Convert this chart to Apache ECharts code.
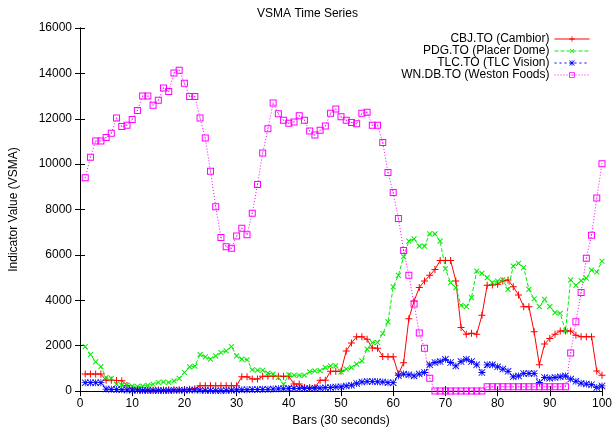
<!DOCTYPE html>
<html>
<head>
<meta charset="utf-8">
<script src="https://cdn.jsdelivr.net/npm/echarts@6/dist/echarts.min.js"></script>
<style>
  html, body { margin: 0; padding: 0; background: #fff; }
  #chart { width: 615px; height: 432px; }
</style>
</head>
<body>
<div id="chart"></div>
<script>
// values, bars 1..100
var cambior = [
  750, 750, 750, 750, 480, 480, 470, 460, 250, 120,
  80, 60, 50, 50, 50, 50, 60, 60, 60, 60,
  80, 100, 240, 240, 240, 240, 240, 240, 240, 240,
  630, 630, 530, 530, 650, 650, 650, 650, 650, 650,
  310, 310, 160, 160, 160, 480, 480, 870, 870, 870,
  1770, 2120, 2390, 2390, 2280, 1900, 1890, 1530, 1510, 1510,
  750, 1250, 3190, 3970, 4560, 4850, 5100, 5360, 5760, 5760,
  5760, 4850, 2800, 2510, 2550, 2510, 3340, 4660, 4680, 4710,
  4850, 4900, 4600, 4240, 3720, 3720, 2610, 1160, 2070, 2320,
  2510, 2650, 2650, 2650, 2460, 2400, 2400, 2400, 890, 700
];
var placerDome = [
  1960, 1610, 1290, 1080, 600, 560, 310, 260, 260, 220,
  200, 220, 250, 300, 380, 400, 380, 450, 560, 820,
  1070, 1100, 1610, 1510, 1410, 1550, 1700, 1770, 1960, 1550,
  1410, 1380, 940, 920, 920, 790, 750, 600, 300, 720,
  700, 700, 700, 850, 890, 900, 1040, 1110, 1110, 850,
  970, 1040, 1190, 1330, 1850, 2140, 2140, 2540, 3050, 4590,
  5100, 5920, 6610, 6710, 6390, 6390, 6930, 6930, 6610, 5390,
  4780, 4560, 3780, 3720, 4120, 5290, 5190, 5000, 4780, 4850,
  4900, 4480, 5510, 5630, 5440, 4480, 4070, 3720, 4040, 3720,
  3460, 3430, 2650, 4900, 4660, 4870, 4980, 5330, 5250, 5720
];
var tlcVision = [
  370, 370, 370, 370, 90, 80, 70, 60, 50, 40,
  40, 30, 30, 30, 30, 30, 30, 40, 40, 40,
  50, 50, 40, 30, 30, 20, 20, 30, 40, 50,
  60, 60, 70, 70, 80, 80, 90, 100, 100, 110,
  110, 110, 120, 120, 130, 130, 150, 160, 180, 190,
  230, 260, 340, 400, 425, 425, 410, 400, 370, 370,
  680, 750, 720, 670, 750, 820, 1160, 1260, 1300, 1400,
  1260, 1110, 1300, 1400, 1300, 1160, 820, 1160, 1160, 1070,
  970, 870, 630, 670, 780, 780, 780, 380, 600, 570,
  600, 630, 670, 530, 430, 350, 310, 280, 160, 230
];
var westonFoods = [
  9400, 10300, 11020, 11020, 11170, 11360, 12030, 11660, 11720, 11970,
  12370, 13000, 13000, 12600, 12820, 13360, 13200, 14020, 14140, 13570,
  12980, 12980, 12030, 11150, 9690, 8120, 6770, 6360, 6290, 6830,
  7180, 6890, 7840, 9100, 10490, 11560, 12700, 12220, 11930, 11800,
  11860, 12130, 11930, 11460, 11280, 11490, 11680, 12240, 12430, 12090,
  11930, 11840, 11780, 12240, 12290, 11720, 11720, 10950, 9630, 8750,
  7610, 6200, 5110, 3840, 2560, 1890, 570, 0, 0, 0,
  0, 0, 0, 0, 0, 0, 0, 190, 190, 190,
  190, 190, 190, 190, 190, 190, 190, 190, 190, 190,
  190, 190, 190, 1680, 3060, 4340, 5850, 6870, 8510, 10020
];
var seriesNames = [
  "CBJ.TO (Cambior)",
  "PDG.TO (Placer Dome)",
  "TLC.TO (TLC Vision)",
  "WN.DB.TO (Weston Foods)"
];

var bars = [];
for (var i = 1; i <= 100; i++) bars.push(i);

function pairs(vals) {
  return bars.map(function (b, k) { return [b, vals[k]]; });
}

var FONT = "Liberation Sans, Arial, sans-serif";
// thin plus / asterisk / hollow box marks like gnuplot's point types
var plus = "path://M3,0h1v7h-1zM0,3h7v1h-7z";
var star = "path://M3.1,0h0.8v7h-0.8zM0,3.1h7v0.8h-7zM0.6,0L7,6.4L6.4,7L0,0.6ZM6.4,0L7,0.6L0.6,7L0,6.4Z";
var box = "path://M0,0h7v7h-7zM1,1v5h5v-5zM3,3h1v1h-1z";

var dom = document.getElementById("chart");
var myChart = echarts.init(dom, null, { renderer: "canvas" });

function lineSeries(name, vals, color, type, symbol, size, rotate) {
  return {
    name: name,
    type: "line",
    data: pairs(vals),
    xAxisIndex: 0,
    yAxisIndex: 0,
    showSymbol: true,
    showAllSymbol: true,
    symbol: symbol,
    symbolSize: size,
    symbolRotate: rotate || 0,
    lineStyle: { color: color, width: 1, type: type },
    itemStyle: { color: color, borderWidth: 0 },
    emphasis: { disabled: true },
    animation: false
  };
}

var legends = seriesNames.map(function (n, k) {
  return {
    data: [n],
    right: 25,
    top: 33 + 12 * k,
    padding: 0,
    align: "right",
    itemWidth: 35,
    itemHeight: 7,
    selectedMode: false,
    lineStyle: { width: 1 },
    textStyle: { fontSize: 12, fontFamily: FONT, color: "#000" }
  };
});

var axisLine = { show: true, lineStyle: { color: "#000", width: 1 } };
var tick = { show: true, inside: true, length: 5, lineStyle: { color: "#000" } };

var option = {
  backgroundColor: "#fff",
  animation: false,
  title: {
    text: "VSMA Time Series",
    left: "center",
    top: 3,
    textStyle: { fontSize: 12, fontWeight: "normal", fontFamily: FONT, color: "#000" }
  },
  legend: legends,
  grid: { left: 78, right: 11, top: 28, bottom: 40, containLabel: false },
  xAxis: [
    {
      type: "value", min: 0, max: 100, interval: 10,
      name: "Bars (30 seconds)", nameLocation: "middle", nameGap: 23,
      nameTextStyle: { fontSize: 12, fontFamily: FONT, color: "#000" },
      axisLine: axisLine, axisTick: tick,
      axisLabel: { fontSize: 12, fontFamily: FONT, color: "#000", margin: 7 },
      splitLine: { show: false }
    },
    {
      type: "value", position: "top", min: 0, max: 100, interval: 10,
      axisLine: axisLine, axisTick: tick,
      axisLabel: { show: false }, splitLine: { show: false }
    }
  ],
  yAxis: [
    {
      type: "value", min: 0, max: 16000, interval: 2000,
      name: "Indicator Value (VSMA)", nameLocation: "middle", nameGap: 60,
      nameTextStyle: { fontSize: 12, fontFamily: FONT, color: "#000" },
      axisLine: axisLine, axisTick: tick,
      axisLabel: {
        fontSize: 12, fontFamily: FONT, color: "#000", margin: 8,
        formatter: function (v) { return String(v); }
      },
      splitLine: { show: false }
    },
    {
      type: "value", position: "right", min: 0, max: 16000, interval: 2000,
      axisLine: axisLine, axisTick: tick,
      axisLabel: { show: false }, splitLine: { show: false }
    }
  ],
  series: [
    lineSeries(seriesNames[0], cambior, "#ff0000", "solid", plus, 7),
    lineSeries(seriesNames[1], placerDome, "#00ee00", [4, 2], plus, 7, 45),
    lineSeries(seriesNames[2], tlcVision, "#0000ff", [2, 3], star, 7),
    lineSeries(seriesNames[3], westonFoods, "#ff00ff", [1, 2], box, 7)
  ]
};

myChart.setOption(option);
window.addEventListener("resize", myChart.resize);
</script>
</body>
</html>
